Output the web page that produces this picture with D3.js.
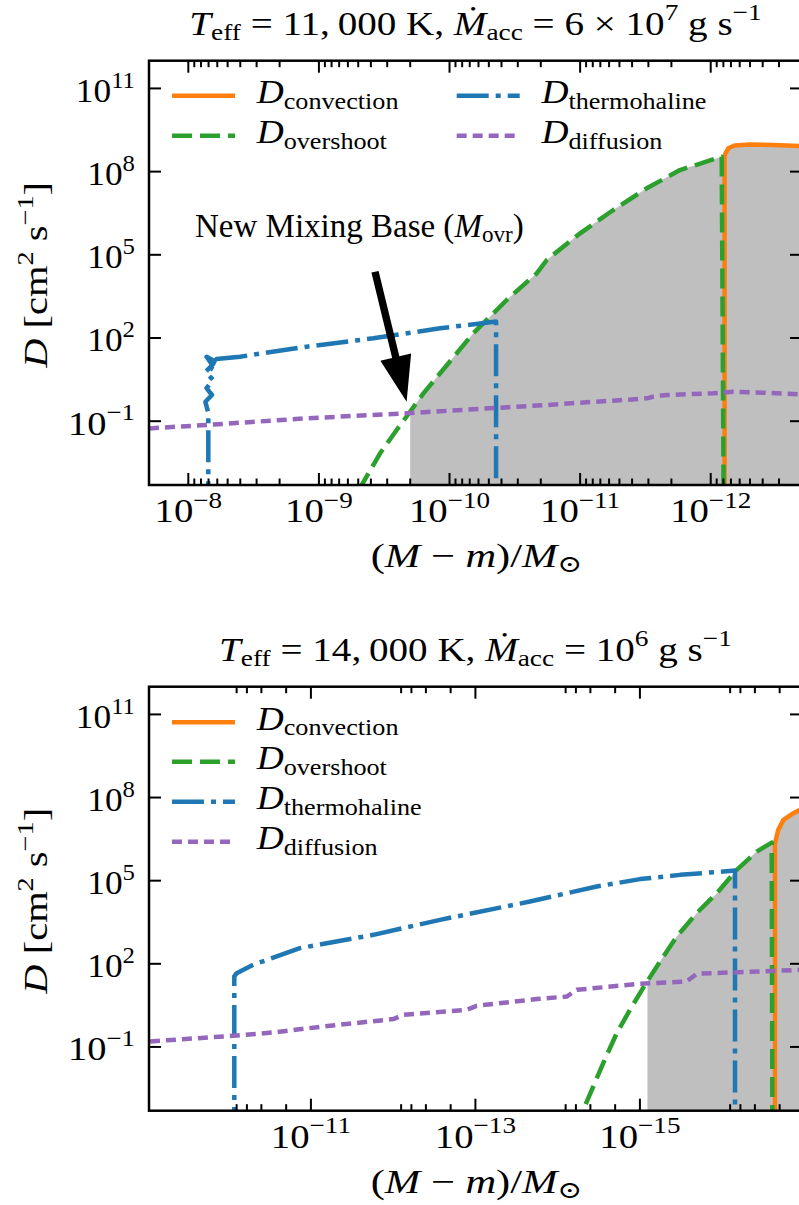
<!DOCTYPE html>
<html>
<head>
<meta charset="utf-8">
<script src="https://cdn.jsdelivr.net/npm/d3@7"></script>
<style>
  html, body { margin: 0; padding: 0; background: #fff; }
  svg { display: block; }
  text { font-family: "Liberation Serif", "DejaVu Serif", serif; fill: #000; }
</style>
</head>
<body>
<svg id="fig" width="799" height="1205"></svg>
<script>
// ===== Upper model: T_eff = 11,000 K, accretion 6e7 g/s =====
// each point: [(M - m)/Msun, D in cm^2/s]
const convA = [[7.83e-13,1e-8],[7.83e-13,3.47e8],[7.69e-13,4.7e8],[7.29e-13,7.1e8],[6.56e-13,8.75e8],
  [5.04e-13,9.5e8],[3.29e-13,9.1e8],[2.0e-13,8.4e8]];
const overA = [[6.3e-10,4e-5],[4.7e-10,5.0e-4],[3.4e-10,6.95e-3],[2.54e-10,0.0481],[2.09e-10,0.167],
  [1.585e-10,1.01],[1.18e-10,5.33],[8.8e-11,28.1],[6.58e-11,148],[4.9e-11,586],[3.65e-11,2344],
  [2.15e-11,2.15e4],[1.80e-11,6.5e4],[1.0e-11,5.97e5],[5.57e-12,4.13e6],[3.09e-12,2.5e7],
  [1.72e-12,1.14e8],[8.24e-13,3.45e8],[7.87e-13,1e-8]];
const thermA = [[7.03e-9,1e-8],[7.03e-9,0.2],[7.4e-9,0.5],[6.59e-9,0.88],[7.25e-9,1.57],[6.45e-9,3.06],
  [7.4e-9,5.94],[6.55e-9,10.6],[7.25e-9,21.0],[6.3e-9,14.5],[6.85e-9,6.5],[6.07e-9,17.5],
  [4.02e-9,21.2],[1.24e-9,48.6],[3.84e-10,97.7],[1.18e-10,224],[4.4e-11,394],[4.4e-11,1e-8]];
const diffA = [[2.0e-8,0.055],[7.23e-9,0.073],[1.24e-9,0.127],[2.13e-10,0.193],[6.6e-11,0.269],
  [1.80e-11,0.384],[1.0e-11,0.465],[5.6e-12,0.548],[3.09e-12,0.668],[2.77e-12,0.764],[2.17e-12,0.88],
  [9.6e-13,1.01],[6.76e-13,1.16],[3.98e-13,1.07],[2.0e-13,0.93]];
const mOvrA = 2.0e-10;
const arrowA = { text: [8.89e-9, 4.5e5], tail: [3.72e-10, 2.45e4], tip: [2.13e-10, 0.5] };

// ===== Lower model: T_eff = 14,000 K, accretion 1e6 g/s =====
const convB = [[2.28e-17,1e-8],[2.28e-17,2.25e6],[2.08e-17,6.8e6],[1.80e-17,1.56e7],[1.36e-17,2.72e7],[1.07e-17,3.9e7]];
const overB = [[6.15e-15,1e-4],[4.88e-15,5.4e-4],[2.79e-15,0.0262],[1.91e-15,0.317],[1.32e-15,2.19],
  [8.67e-16,17.5],[5.19e-16,183],[3.57e-16,964],[2.04e-16,6.73e3],[1.16e-16,3.55e4],[6.65e-17,2.45e5],
  [3.80e-17,1.12e6],[2.50e-17,2.37e6],[2.43e-17,1e-8]];
const thermB = [[8.54e-11,1e-8],[8.54e-11,35],[7.99e-11,46],[5.02e-11,92],[1.36e-11,368],[1.74e-12,1.11e3],
  [2.69e-13,3.86e3],[2.17e-14,1.77e4],[3.35e-15,6.14e4],[9.97e-16,1.14e5],[3.25e-16,1.62e5],
  [6.98e-17,2.32e5],[6.98e-17,1e-8]];
const diffB = [[9.04e-10,0.158],[8.78e-11,0.253],[2.87e-11,0.333],[7.07e-12,0.548],[9.96e-13,1.01],
  [7.53e-13,1.45],[1.28e-13,2.19],[9.64e-14,3.05],[1.80e-14,5.33],[7.76e-15,6.6],[5.87e-15,11.5],
  [9.97e-16,19.0],[2.70e-16,23.0],[2.04e-16,43.6],[1.07e-17,61]];
const mOvrB = 8.1e-16;

// ===== axes =====
const yTicks = [1e-1, 1e2, 1e5, 1e8, 1e11];
const yTickExp = ["\u22121", "2", "5", "8", "11"];
const xTicksA = [1e-8, 1e-9, 1e-10, 1e-11, 1e-12];
const xTickExpA = ["\u22128", "\u22129", "\u221210", "\u221211", "\u221212"];
const xTicksB = [1e-11, 1e-13, 1e-15];
const xTickExpB = ["\u221211", "\u221213", "\u221215"];

const seriesNames = ["convection", "overshoot", "thermohaline", "diffusion"];
const seriesColors = ["#ff7f0e", "#2ca02c", "#1f77b4", "#9467bd"];
const seriesDash = [null, "20,8", "32,7,5,7", "10,6"];

const FS = 34, SCRIPT = 0.7, LW = 4.5;
const svg = d3.select("#fig");
svg.append("rect").attr("width", 799).attr("height", 1205).attr("fill", "#fff");

// rich text: list of segments {t, i (italic), p ('sup'|'sub')}
const I = t => ({ t, i: true }), R = t => ({ t }), SUP = t => ({ t, p: "sup" }), SB = t => ({ t, p: "sub" });
function rich(sel, segs, size) {
  let cur = 0;
  segs.forEach(sg => {
    const off = sg.p === "sup" ? -0.42 * size : sg.p === "sub" ? 0.16 * size : 0;
    sel.append("tspan")
      .attr("dy", (off - cur).toFixed(2))
      .style("font-size", (sg.p ? size * SCRIPT : size) + "px")
      .style("font-style", sg.i ? "italic" : "normal")
      .text(sg.t);
    cur = off;
  });
  return sel;
}
// placed label, widened horizontally by sx (rotation optional)
function label(parent, x, y, anchor, segs, size, sx, rot) {
  const t = parent.append("text").attr("text-anchor", anchor)
    .attr("transform", `translate(${x},${y})${rot ? ` rotate(${rot})` : ""} scale(${sx},1)`);
  return rich(t, segs, size);
}

// interpolate D at position m along a curve (log-log)
function logInterp(curve, m) {
  const lm = Math.log10(m);
  for (let k = 0; k < curve.length - 1; k++) {
    const a = curve[k], b = curve[k + 1];
    const la = Math.log10(a[0]), lb = Math.log10(b[0]);
    if ((lm - la) * (lm - lb) <= 0 && la !== lb) {
      const f = (lm - la) / (lb - la);
      return Math.pow(10, Math.log10(a[1]) + f * (Math.log10(b[1]) - Math.log10(a[1])));
    }
  }
  return curve[0][1];
}

function drawPanel(cfg) {
  const { id, left, right, top, bottom } = cfg;
  const x = d3.scaleLog().domain(cfg.xDomain).range([left, right]);
  const y = d3.scaleLog().domain([5e-4, 1e12]).range([bottom, top]);
  const g = svg.append("g");

  g.append("clipPath").attr("id", "clip" + id)
    .append("rect").attr("x", left).attr("y", top).attr("width", right - left).attr("height", bottom - top);
  const plot = g.append("g").attr("clip-path", `url(#clip${id})`);

  // mixed region: from the new mixing base outwards, under overshoot then convection
  const edge = [[cfg.mOvr, logInterp(cfg.over, cfg.mOvr)]]
    .concat(cfg.over.filter((d, k) => d[0] < cfg.mOvr && k < cfg.over.length - 1))
    .concat(cfg.conv.slice(1));
  const area = d3.area().x(d => x(d[0])).y0(bottom).y1(d => y(d[1]));
  plot.append("path").datum(edge).attr("d", area).attr("fill", "#bfbfbf");

  const line = d3.line().x(d => x(d[0])).y(d => y(d[1]));
  [cfg.conv, cfg.over, cfg.therm, cfg.diff].forEach((s, k) => {
    plot.append("path").datum(s).attr("d", line)
      .attr("fill", "none").attr("stroke", seriesColors[k]).attr("stroke-width", LW)
      .attr("stroke-linejoin", "round")
      .attr("stroke-dasharray", seriesDash[k]);
  });

  // ticks (inward on all four sides)
  const tk = g.append("g").attr("stroke", "#000").attr("stroke-width", 2);
  const lo = Math.min(...cfg.xDomain), hi = Math.max(...cfg.xDomain);
  const minor = [];
  cfg.minorDecades.forEach(e => cfg.minorSubs.forEach(s => {
    const v = s * Math.pow(10, e);
    if (v > lo && v < hi) minor.push(v);
  }));
  minor.forEach(v => {
    tk.append("line").attr("x1", x(v)).attr("x2", x(v)).attr("y1", bottom).attr("y2", bottom - 6.5);
    tk.append("line").attr("x1", x(v)).attr("x2", x(v)).attr("y1", top).attr("y2", top + 6.5);
  });
  cfg.xTicks.forEach(v => {
    tk.append("line").attr("x1", x(v)).attr("x2", x(v)).attr("y1", bottom).attr("y2", bottom - 12);
    tk.append("line").attr("x1", x(v)).attr("x2", x(v)).attr("y1", top).attr("y2", top + 12);
  });
  yTicks.forEach(v => {
    tk.append("line").attr("x1", left).attr("x2", left + 12).attr("y1", y(v)).attr("y2", y(v));
    tk.append("line").attr("x1", right).attr("x2", right - 12).attr("y1", y(v)).attr("y2", y(v));
  });

  g.append("rect").attr("x", left).attr("y", top).attr("width", right - left).attr("height", bottom - top)
    .attr("fill", "none").attr("stroke", "#000").attr("stroke-width", 2.5);

  // tick labels
  cfg.xTicks.forEach((v, k) => {
    label(g, x(v), bottom + 37, "middle", [R("10"), SUP(cfg.xTickExp[k])], FS, 1.14);
  });
  yTicks.forEach((v, k) => {
    const neg = yTickExp[k].startsWith("\u2212");
    label(g, left - 14, y(v) + 13.4, "end", [R("10"), SUP(yTickExp[k])], FS, neg ? 1.13 : 1.04);
  });

  // axis labels and title
  const cx = (left + right) / 2;
  label(g, cx + 1, bottom + 82, "middle",
    [R("("), I("M"), R(" \u2212 "), I("m"), R(")/"), I("M"), SB("\u2299")], FS, 1.25);
  label(g, 47, (top + bottom) / 2 + 2, "middle",
    [I("D"), R(" [cm"), SUP("2"), R(" s"), SUP("\u22121"), R("]")], FS, 1.19, -90);
  label(g, cx, top - 26, "middle", cfg.title, FS, 1.15);

  // legend
  cfg.legend.forEach(([k, lx, ly]) => {
    g.append("line").attr("x1", lx).attr("x2", lx + 63).attr("y1", top + ly).attr("y2", top + ly)
      .attr("stroke", seriesColors[k]).attr("stroke-width", LW).attr("stroke-dasharray", seriesDash[k]);
    label(g, lx + 84.7, top + ly + 7.5, "start", [I("D"), SB(seriesNames[k])], FS, 1.1);
  });

  // annotation arrow for the new mixing base
  if (cfg.arrow) {
    const a = cfg.arrow;
    label(g, x(a.text[0]), y(a.text[1]), "start",
      [R("New Mixing Base ("), I("M"), SB("ovr"), R(")")], 33, 1.0);
    const tx = x(a.tail[0]), ty = y(a.tail[1]), px = x(a.tip[0]), py = y(a.tip[1]);
    const L = Math.hypot(px - tx, py - ty), ux = (px - tx) / L, uy = (py - ty) / L, nx = -uy, ny = ux;
    const hw = 3.7, HW = 15.8, HL = 46;
    const bx = px - ux * HL, by = py - uy * HL;
    const pts = [[tx + nx * hw, ty + ny * hw], [bx + nx * hw, by + ny * hw], [bx + nx * HW, by + ny * HW], [px, py],
      [bx - nx * HW, by - ny * HW], [bx - nx * hw, by - ny * hw], [tx - nx * hw, ty - ny * hw]];
    g.append("path").attr("d", "M" + pts.map(p => p.join(",")).join("L") + "Z").attr("fill", "#000");
  }
}

drawPanel({
  id: "A", left: 149, right: 802, top: 60.7, bottom: 485,
  xDomain: [2e-8, 2e-13], xTicks: xTicksA, xTickExp: xTickExpA,
  minorDecades: [-8, -9, -10, -11, -12, -13], minorSubs: [2, 3, 4, 5, 6, 7, 8, 9],
  conv: convA, over: overA, therm: thermA, diff: diffA, mOvr: mOvrA, arrow: arrowA,
  title: [I("T"), SB("eff"), R(" = 11,\u2009000 K, "), I("\u1E40"), SB("acc"), R(" = 6 \u00D7 10"), SUP("7"), R(" g s"), SUP("\u22121")],
  legend: [[0, 172, 35], [1, 172, 75], [2, 456.7, 35], [3, 456.7, 75]]
});
drawPanel({
  id: "B", left: 149, right: 802, top: 686.7, bottom: 1110.7,
  xDomain: [9.3e-10, 1.07e-17], xTicks: xTicksB, xTickExp: xTickExpB,
  minorDecades: [-9, -11, -13, -15, -17], minorSubs: [2, 4, 6, 8],
  conv: convB, over: overB, therm: thermB, diff: diffB, mOvr: mOvrB, arrow: null,
  title: [I("T"), SB("eff"), R(" = 14,\u2009000 K, "), I("\u1E40"), SB("acc"), R(" = 10"), SUP("6"), R(" g s"), SUP("\u22121")],
  legend: [[0, 172, 35.6], [1, 172, 75], [2, 172, 115], [3, 172, 155]]
});
</script>
</body>
</html>
